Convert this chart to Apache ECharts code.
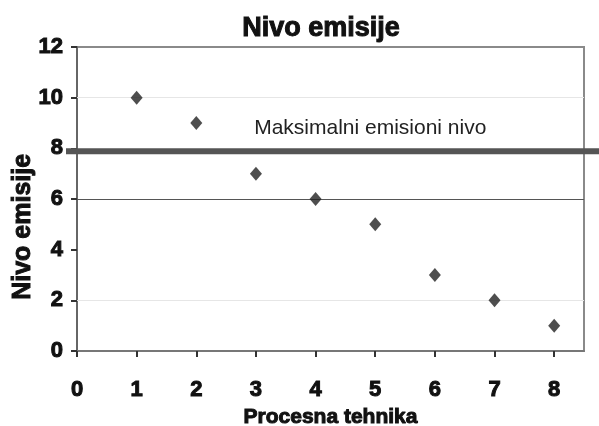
<!DOCTYPE html>
<html>
<head>
<meta charset="utf-8">
<script src="https://cdn.jsdelivr.net/npm/echarts@6/dist/echarts.min.js"></script>
<style>
  html, body { margin: 0; padding: 0; background: #fff; }
  #chart { width: 599px; height: 426px; }
</style>
</head>
<body>
<div id="chart"></div>
<script>
// Emission level per process technique
const techniques = [1, 2, 3, 4, 5, 6, 7, 8];
const emissions = [10, 9, 7, 6, 5, 3, 2, 1];
const xTicks = [0, 1, 2, 3, 4, 5, 6, 7, 8];
const maxLevel = 8;
const maxLevelLabel = 'Maksimalni emisioni nivo';
const yAxisTitle = 'Nivo emisije';
const lightGrid = [2, 10];
const darkGrid = [6];

const font = '"Liberation Sans", Arial, sans-serif';
// heavy black text: bold face thickened with a thin outline of the same colour
const heavy = (size) => ({
  fontFamily: font, fontWeight: 'bold', fontSize: size, color: '#111',
  textBorderColor: '#111', textBorderWidth: 1
});

const chart = echarts.init(document.getElementById('chart'));

chart.setOption({
  animation: false,
  backgroundColor: '#fff',
  title: {
    text: 'Nivo emisije',
    left: 316, top: 10, textAlign: 'center',
    textStyle: heavy(27)
  },
  grid: {
    left: 77, right: 15, top: 47, bottom: 75,
    outerBoundsMode: 'none', containLabel: false,
    show: true, borderColor: '#8a8a8a', borderWidth: 2
  },
  xAxis: {
    type: 'value', min: 0, max: 8.5, interval: 1,
    name: 'Procesna tehnika', nameLocation: 'middle', nameGap: 45,
    nameTextStyle: heavy(21),
    axisLine: { show: true, onZero: false, lineStyle: { color: '#777', width: 2 } },
    axisTick: { show: true, customValues: xTicks, length: 6, lineStyle: { color: '#333', width: 2 } },
    axisLabel: Object.assign({ customValues: xTicks, margin: 28 }, heavy(22)),
    splitLine: { show: false }
  },
  yAxis: {
    type: 'value', min: 0, max: 12, interval: 2,
    axisLine: { show: true, lineStyle: { color: '#666', width: 2 } },
    axisTick: { show: true, length: 6, lineStyle: { color: '#333', width: 2 } },
    axisLabel: Object.assign({ margin: 14 }, heavy(22)),
    splitLine: { show: false }
  },
  series: [{
    type: 'scatter',
    data: techniques.map((t, i) => [t, emissions[i]]),
    symbol: 'diamond', symbolSize: [12, 14],
    itemStyle: { color: '#222' },
    z: 5,
    markLine: {
      silent: true, symbol: 'none', label: { show: false },
      data: [
        ...lightGrid.map(v => ({ yAxis: v, lineStyle: { color: '#e6e6e6', width: 1, type: 'solid' } })),
        ...darkGrid.map(v => ({ yAxis: v, lineStyle: { color: '#555', width: 1, type: 'solid' } }))
      ],
      z: 1
    }
  }]
});

// Limit line extends past the plot frame to the page edge; label above it.
// The vertical axis title sits a little below the plot's middle.
function drawOverlays() {
  const left = chart.convertToPixel({ gridIndex: 0 }, [0, maxLevel]);
  const labelPos = chart.convertToPixel({ gridIndex: 0 }, [2.97, maxLevel + 0.8]);
  const titlePos = chart.convertToPixel({ gridIndex: 0 }, [0, 4.9]);
  chart.setOption({
    graphic: [
      {
        type: 'line', z: 10, silent: true,
        shape: { x1: left[0] - 11, y1: left[1] + 3, x2: chart.getWidth(), y2: left[1] + 3 },
        style: { stroke: '#555', lineWidth: 6 }
      },
      {
        type: 'text', z: 10, silent: true,
        x: labelPos[0], y: labelPos[1],
        style: {
          text: maxLevelLabel, fill: '#222',
          font: '21px "Liberation Sans", Arial, sans-serif',
          textVerticalAlign: 'middle'
        }
      },
      {
        type: 'text', z: 10, silent: true,
        x: titlePos[0] - 54, y: titlePos[1],
        rotation: Math.PI / 2,
        style: {
          text: yAxisTitle, fill: '#111',
          font: 'bold 25px "Liberation Sans", Arial, sans-serif',
          stroke: '#111', lineWidth: 1,
          textAlign: 'center', textVerticalAlign: 'middle'
        }
      }
    ]
  });
}
drawOverlays();
</script>
</body>
</html>
